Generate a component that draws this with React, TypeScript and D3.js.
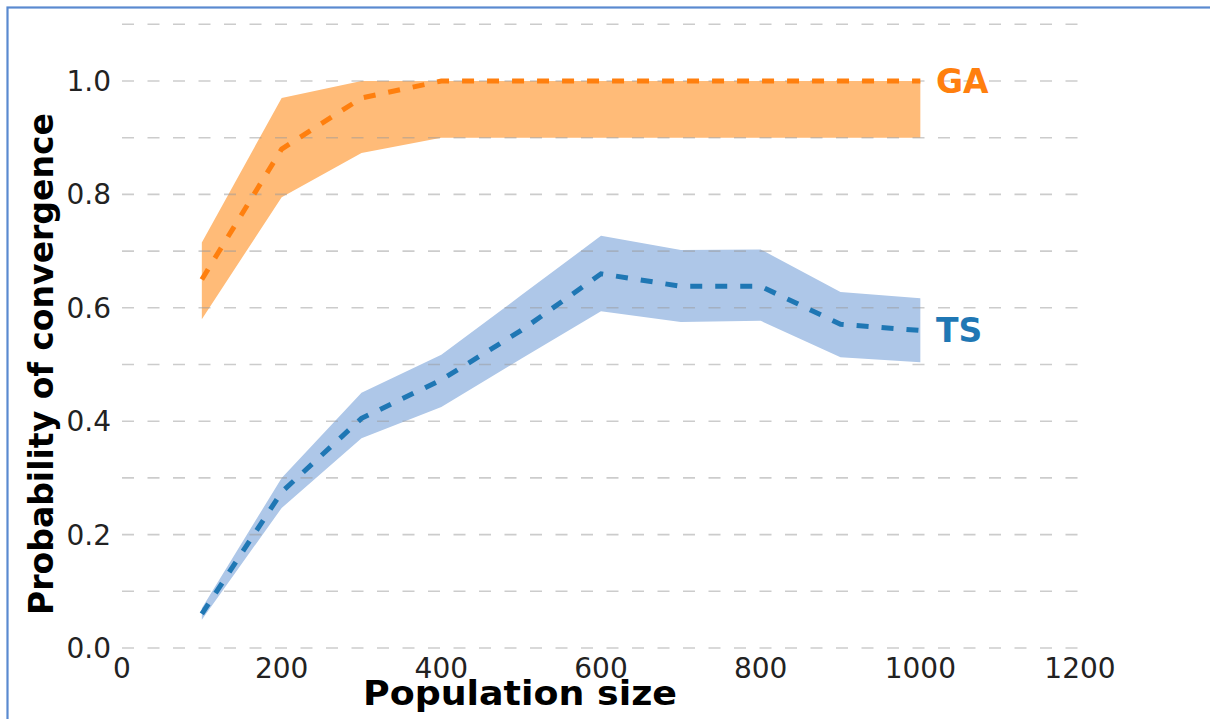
import React, { useEffect, useRef } from 'react';
import * as d3 from 'd3';

// population sizes on the x axis
const popSizes = [100, 200, 300, 400, 500, 600, 700, 800, 900, 1000];

// GA: mean and band
const gaMean = [0.65, 0.88, 0.97, 1.0, 1.0, 1.0, 1.0, 1.0, 1.0, 1.0];
const gaUpper = [0.715, 0.97, 1.0, 1.0, 1.0, 1.0, 1.0, 1.0, 1.0, 1.0];
const gaLower = [0.58, 0.795, 0.873, 0.9, 0.9, 0.9, 0.9, 0.9, 0.9, 0.9];

// TS: mean and band
const tsMean = [0.06, 0.275, 0.405, 0.473, 0.56, 0.66, 0.638, 0.638, 0.571, 0.56];
const tsUpper = [0.07, 0.3, 0.45, 0.517, 0.622, 0.727, 0.702, 0.703, 0.628, 0.617];
const tsLower = [0.05, 0.247, 0.37, 0.425, 0.51, 0.594, 0.575, 0.577, 0.513, 0.504];

const xTicks = [0, 200, 400, 600, 800, 1000, 1200];
const yTicks = [0.0, 0.2, 0.4, 0.6, 0.8, 1.0];
const gridVals = [0, 0.1, 0.2, 0.3, 0.4, 0.5, 0.6, 0.7, 0.8, 0.9, 1.0, 1.1];

function App() {
  const ref = useRef<SVGSVGElement>(null);

  useEffect(() => {
    const W = 1210, H = 719;
    const svg = d3.select(ref.current);
    svg.selectAll('*').remove();

    const x = d3.scaleLinear().domain([0, 1200]).range([122, 1080]);
    const y = d3.scaleLinear().domain([0, 1.1]).range([648, 24.3]);

    // frame (only top and left edges show)
    svg.append('rect').attr('x', 7.5).attr('y', 7.5).attr('width', W + 10).attr('height', H + 10)
      .attr('fill', 'white').attr('stroke', '#5a8ad0').attr('stroke-width', 2.2);

    const font = 'DejaVu Sans, sans-serif';

    const band = (lo: number[], hi: number[]) => d3.area<number>()
      .x((d) => x(popSizes[d]))
      .y0((d) => y(lo[d]))
      .y1((d) => y(hi[d]));
    const line = (m: number[]) => d3.line<number>()
      .x((d) => x(popSizes[d]))
      .y((d) => y(m[d]));
    const idx = d3.range(popSizes.length);

    // bands
    svg.append('path').attr('d', band(gaLower, gaUpper)(idx)).attr('fill', '#ffbb78');
    svg.append('path').attr('d', band(tsLower, tsUpper)(idx)).attr('fill', '#aec7e8');

    // grid
    svg.append('g').selectAll('line').data(gridVals).enter().append('line')
      .attr('x1', x(0)).attr('x2', x(1200))
      .attr('y1', (d) => y(d)).attr('y2', (d) => y(d))
      .attr('stroke', '#999').attr('stroke-opacity', 0.5)
      .attr('stroke-width', 1.6).attr('stroke-dasharray', '12 13.5');

    // mean lines
    svg.append('path').attr('d', line(gaMean)(idx)).attr('fill', 'none')
      .attr('stroke', '#ff7f0e').attr('stroke-width', 5).attr('stroke-dasharray', '12 13');
    svg.append('path').attr('d', line(tsMean)(idx)).attr('fill', 'none')
      .attr('stroke', '#1f77b4').attr('stroke-width', 5).attr('stroke-dasharray', '12 13');

    // tick labels
    svg.append('g').selectAll('text').data(xTicks).enter().append('text')
      .attr('x', (d) => x(d)).attr('y', 678)
      .attr('text-anchor', 'middle').attr('font-family', font).attr('font-size', 28)
      .attr('fill', '#222').text((d) => d);
    svg.append('g').selectAll('text').data(yTicks).enter().append('text')
      .attr('x', 111).attr('y', (d) => y(d)).attr('dy', '0.36em')
      .attr('text-anchor', 'end').attr('font-family', font).attr('font-size', 28)
      .attr('fill', '#222').text((d) => d.toFixed(1));

    // axis titles
    svg.append('text').attr('x', 520).attr('y', 705).attr('text-anchor', 'middle')
      .attr('font-family', font).attr('font-weight', 'bold').attr('font-size', 34)
      .attr('textLength', 314).attr('lengthAdjust', 'spacingAndGlyphs')
      .text('Population size');
    svg.append('text').attr('transform', 'translate(53,364) rotate(-90)').attr('text-anchor', 'middle')
      .attr('font-family', font).attr('font-weight', 'bold').attr('font-size', 34)
      .attr('textLength', 502).attr('lengthAdjust', 'spacingAndGlyphs')
      .text('Probability of convergence');

    // series labels
    svg.append('text').attr('x', 936).attr('y', y(1.0)).attr('dy', '0.36em')
      .attr('font-family', font).attr('font-weight', 'bold').attr('font-size', 33)
      .attr('fill', '#ff7f0e').text('GA');
    svg.append('text').attr('x', 936).attr('y', 330).attr('dy', '0.36em')
      .attr('font-family', font).attr('font-weight', 'bold').attr('font-size', 33)
      .attr('fill', '#1f77b4').text('TS');
  }, []);

  return (
    <div style={{ position: 'absolute', left: 0, top: 0 }}>
      <svg ref={ref} width={1210} height={719} style={{ display: 'block' }} />
    </div>
  );
}

export default App;
